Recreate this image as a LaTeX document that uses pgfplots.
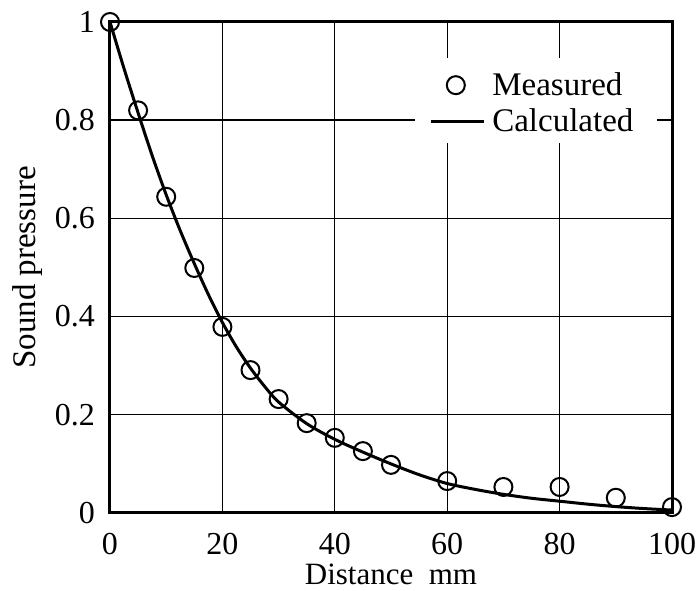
\documentclass[border=0pt]{standalone}
\usepackage{fontspec}
\setmainfont{Liberation Serif}
\usepackage{pgfplots}
\pgfplotsset{compat=1.18}
\usetikzlibrary{calc}

\pgfplotsset{
    long line legend/.style={
        legend image code/.code={\draw[black, line width=1.5pt] (0pt,0pt) -- (26.5pt,0pt);}
    },
    circle legend/.style={
        legend image code/.code={
            \path[draw=none] (0pt,0pt) -- (26.5pt,0pt);
            \draw[black, line width=1pt] (12.5pt,0pt) circle (4.5pt);
        }
    },
}

\begin{document}
\begin{tikzpicture}
\begin{axis}[
    scale only axis,
    width=281pt, height=245.5pt,
    xmin=0, xmax=100,
    ymin=0, ymax=1,
    xtick={0,20,40,60,80,100},
    ytick={0,0.2,0.4,0.6,0.8,1},
    yticklabels={0,0.2,0.4,0.6,0.8,1},
    grid=major,
    grid style={black, line width=0.7pt},
    major tick length=0pt,
    axis line style={black, line width=1.5pt},
    /pgf/number format/assume math mode=true,
    tick label style={font=\fontsize{16}{18}\selectfont},
    xticklabel style={yshift=-6.5pt},
    yticklabel style={xshift=-4pt},
    label style={font=\fontsize{15.5}{18}\selectfont},
    xlabel={Distance\ \ mm},
    xlabel style={yshift=2pt},
    ylabel={Sound pressure},
    ylabel style={font=\fontsize{16.5}{19}\selectfont, yshift=-0.5pt},
    clip=false,
    legend style={
        at={(rel axis cs:0.973,0.927)}, anchor=north east,
        draw=none, fill=none,
        font=\fontsize{16.5}{19}\selectfont,
        row sep=1pt,
        inner xsep=8pt, inner ysep=5pt,
        nodes={inner xsep=3.5pt},
    },
    legend cell align=left,
]

% white box behind the legend, hiding the grid
\fill[white] (rel axis cs:0.543,0.754) rectangle (rel axis cs:0.973,0.927);

\addplot[black, line width=1.5pt, smooth, forget plot] coordinates {
    (0,1.0) (2.5,0.905) (5,0.815) (7.5,0.728) (10,0.648) (12.5,0.575)
    (15,0.508) (17.5,0.445) (20,0.388) (22.5,0.338) (25,0.295)
    (27.5,0.258) (30,0.226) (35,0.182) (40,0.150) (45,0.124)
    (50,0.100) (55,0.078) (60,0.060) (65,0.048) (70,0.038)
    (75,0.030) (80,0.024) (85,0.018) (90,0.013) (95,0.009) (100,0.006)
};

\addplot[only marks, mark=o, mark size=4.5pt, black, line width=1pt,
    mark options={fill=white}, circle legend] coordinates {
    (0,1.0) (5,0.82) (10,0.644) (15,0.499) (20,0.379) (25,0.291)
    (30,0.232) (35,0.183) (40,0.153) (45,0.126) (50,0.098)
    (60,0.065) (70,0.053) (80,0.053) (90,0.031) (100,0.012)
};
\addlegendentry{Measured}

\addlegendimage{long line legend}
\addlegendentry{Calculated}

\end{axis}
\pgfresetboundingbox
\path[use as bounding box]
    ($(current axis.south west)+(-55pt,-39pt)$) rectangle
    ($(current axis.north east)+(12.5pt,11pt)$);
\end{tikzpicture}
\end{document}
